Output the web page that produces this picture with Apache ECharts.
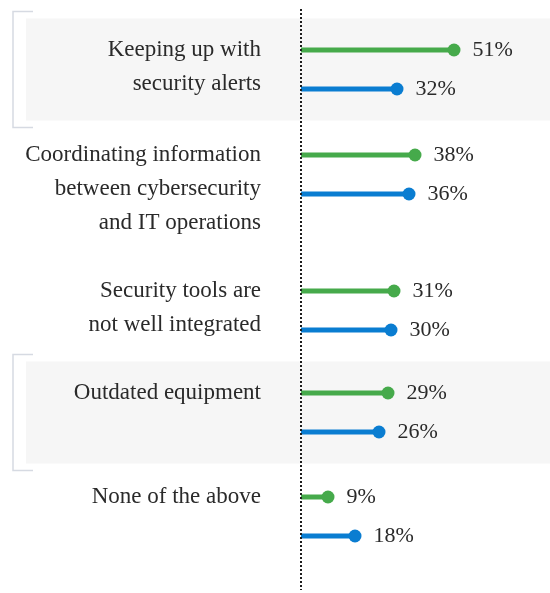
<!DOCTYPE html>
<html>
<head>
<meta charset="utf-8">
<script src="https://cdn.jsdelivr.net/npm/echarts@6/dist/echarts.min.js"></script>
<style>
  html, body { margin: 0; padding: 0; background: #fff; }
  #chart { width: 550px; height: 593px; }
</style>
</head>
<body>
<div id="chart"></div>
<script>
// Survey answers, one block per challenge
const categories = [
  'Keeping up with\nsecurity alerts',
  'Coordinating information\nbetween cybersecurity\nand IT operations',
  'Security tools are\nnot well integrated',
  'Outdated equipment',
  'None of the above'
];
const greenValues = [51, 38, 31, 29, 9];
const blueValues = [32, 36, 30, 26, 18];
const shadedBlocks = [true, false, false, true, false];

// Styling / layout
const GREEN = '#46aa4b';
const BLUE = '#0a7dd1';
const TEXT = '#2a2a2a';
const FONT = '"Liberation Serif", "Times New Roman", serif';
const AXIS_X = 301;
const BLOCK_H = 78;
const blockTops = [30.5, 135.5, 271.5, 373.5, 477.5];

const grids = [], xAxes = [], yAxes = [], series = [], graphics = [];
const pick = p => (p.dataIndex === 0 ? GREEN : BLUE);

categories.forEach((name, i) => {
  const top = blockTops[i];
  grids.push({
    left: AXIS_X, right: 0, top: top, height: BLOCK_H,
    containLabel: false, outerBoundsMode: 'none'
  });
  xAxes.push({ gridIndex: i, type: 'value', min: 0, max: 83, show: false });
  // data rows: green on top, blue below
  yAxes.push({ gridIndex: i, type: 'category', inverse: true, data: ['a', 'b'], show: false });
  // question text, top-aligned with the first row
  yAxes.push({
    gridIndex: i, type: 'category', position: 'left', inverse: true, boundaryGap: false,
    data: [name, ''],
    axisLine: { show: false }, axisTick: { show: false }, splitLine: { show: false },
    axisLabel: {
      interval: 0, margin: 40, align: 'right', verticalAlign: 'top',
      lineHeight: 34, padding: [2, 0, 0, 0],
      fontFamily: FONT, fontSize: 23, color: TEXT
    }
  });
  const vals = [greenValues[i], blueValues[i]];
  series.push({
    type: 'bar', xAxisIndex: i, yAxisIndex: 2 * i,
    data: vals, barWidth: 5, silent: true,
    itemStyle: { color: pick }
  });
  series.push({
    type: 'scatter', xAxisIndex: i, yAxisIndex: 2 * i,
    data: vals.map((v, k) => [v, k]),
    symbolSize: 13, silent: true,
    itemStyle: { color: pick, opacity: 1 },
    label: {
      show: true, position: 'right', distance: 12,
      formatter: p => p.value[0] + '%',
      fontFamily: FONT, fontSize: 22, color: TEXT
    }
  });
  if (shadedBlocks[i]) {
    graphics.push({
      type: 'rect', z: -2,
      shape: { x: 26, y: top - 12, width: 524, height: 102 },
      style: { fill: '#f6f6f6' }
    });
    graphics.push({
      type: 'polyline', z: -1,
      shape: { points: [[33, top - 19], [13, top - 19], [13, top + 97], [33, top + 97]] },
      style: { stroke: '#d6dae2', lineWidth: 1.5, fill: null }
    });
  }
});

// dotted zero line
graphics.push({
  type: 'line', z: 10,
  shape: { x1: AXIS_X, y1: 9, x2: AXIS_X, y2: 590 },
  style: { stroke: '#1e1e1e', lineWidth: 2, lineDash: [2, 2] }
});

const chart = echarts.init(document.getElementById('chart'), null, { renderer: 'canvas' });
chart.setOption({
  animation: false,
  backgroundColor: '#fff',
  grid: grids,
  xAxis: xAxes,
  yAxis: yAxes,
  series: series,
  graphic: graphics
});
</script>
</body>
</html>
